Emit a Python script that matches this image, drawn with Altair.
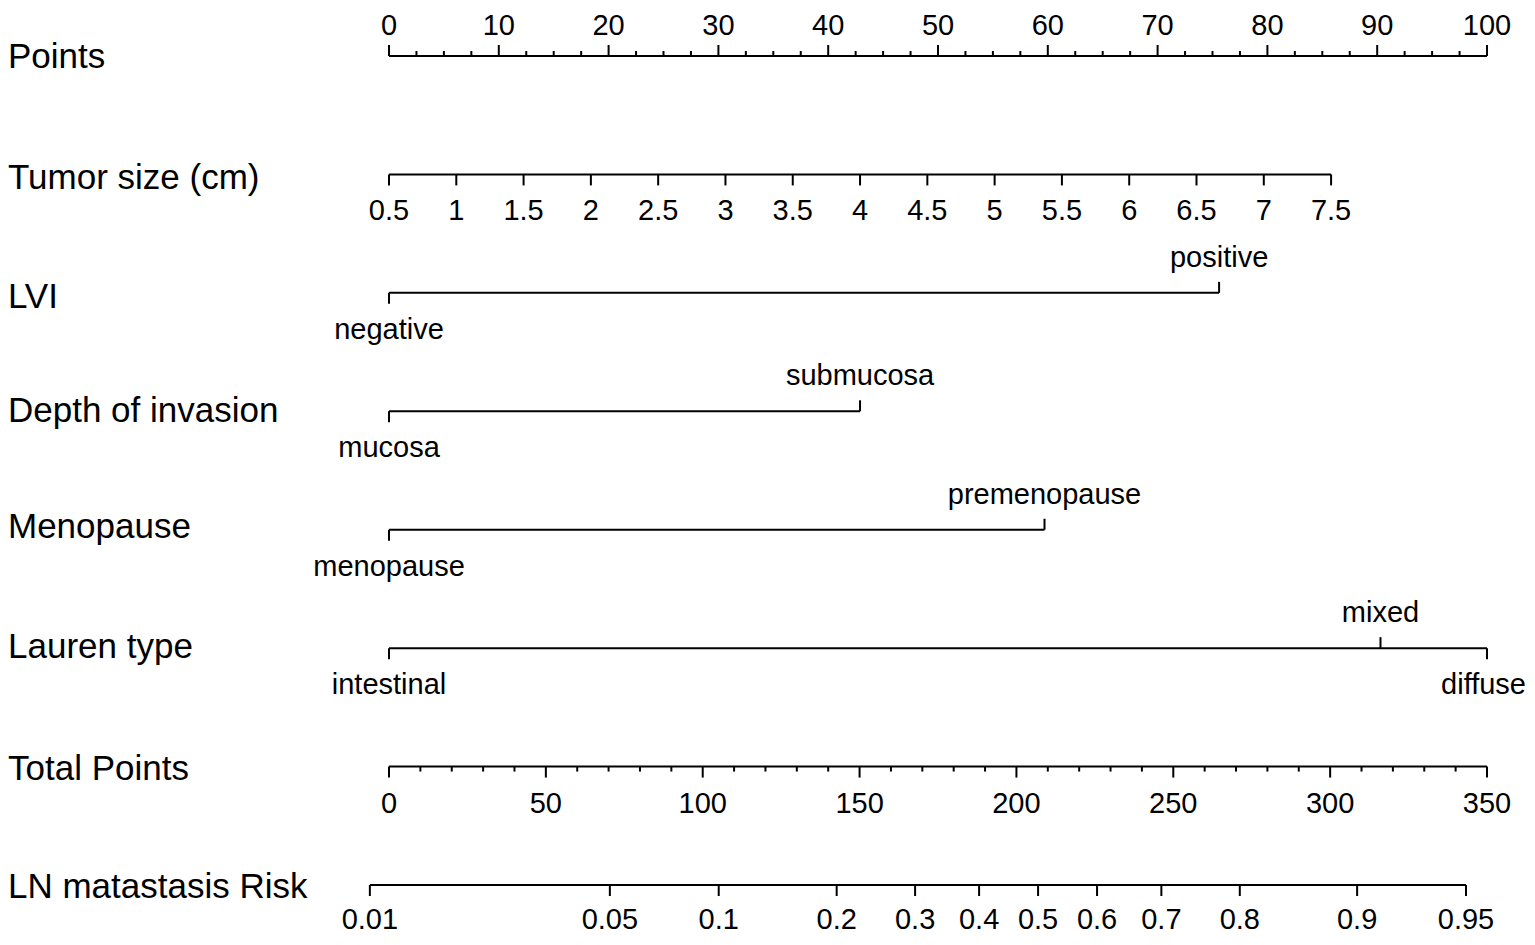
import altair as alt
import pandas as pd

# ---------------- data ----------------
row_names = ["Points", "Tumor size (cm)", "LVI", "Depth of invasion", "Menopause",
             "Lauren type", "Total Points", "LN matastasis Risk"]

points_major = [0, 10, 20, 30, 40, 50, 60, 70, 80, 90, 100]
points_minor = [m + d for m in range(0, 100, 10) for d in (2.5, 5, 7.5)]

tumor_vals = [0.5, 1, 1.5, 2, 2.5, 3, 3.5, 4, 4.5, 5, 5.5, 6, 6.5, 7, 7.5]
tumor_labels = ["0.5", "1", "1.5", "2", "2.5", "3", "3.5", "4", "4.5", "5", "5.5",
                "6", "6.5", "7", "7.5"]
tumor_points_max = 85.8  # points given to 7.5 cm

lvi_levels = ["negative", "positive"]
lvi_points = [0, 75.6]
depth_levels = ["mucosa", "submucosa"]
depth_points = [0, 42.9]
meno_levels = ["menopause", "premenopause"]
meno_points = [0, 59.7]
lauren_levels = ["intestinal", "mixed", "diffuse"]
lauren_points = [0, 90.3, 100]

total_major = [0, 50, 100, 150, 200, 250, 300, 350]
total_minor = [v for v in range(10, 350, 10) if v % 50 != 0]

risk_labels = ["0.01", "0.05", "0.1", "0.2", "0.3", "0.4", "0.5", "0.6", "0.7",
               "0.8", "0.9", "0.95"]
risk_total_points = [-6.1, 70.4, 105.1, 142.7, 167.7, 188.1, 206.9, 225.7, 246.2,
                     271.2, 308.6, 343.3]

# ---------------- layout (pixel positions, styles) ----------------
FONT = "Liberation Sans"
TOP_LINE, BOTTOM_LINE = 56, 885
STEP = (BOTTOM_LINE - TOP_LINE) / (len(row_names) - 1)
LINE_Y = {r: TOP_LINE + i * STEP for i, r in enumerate(row_names)}
NAME_OFF = {"Points": 12, "Tumor size (cm)": 15, "LVI": 15, "Depth of invasion": 11,
            "Menopause": 8, "Lauren type": 10, "Total Points": 13,
            "LN matastasis Risk": 13}
MAJ, MIN = 11, 5
ABOVE, BELOW = -26, 46
PLOT_W = 1098
LEFT = 381
RIGHT = 40
H = 928

YS = alt.Scale(domain=[8, 8 + H], range=[0, H], nice=False, zero=False)
S_PTS = alt.Scale(domain=[0, 100], range=[0, PLOT_W], nice=False, zero=False)
S_TUM = alt.Scale(domain=[0.5, 7.5], range=[0, PLOT_W * tumor_points_max / 100],
                  nice=False, zero=False)
S_TOT = alt.Scale(domain=[0, 350], range=[0, PLOT_W], nice=False, zero=False)

lines, ticks, texts = [], [], []

def add_line(key, row, a, b):
    lines.append(dict(k=key, x=a, x2=b, y=LINE_Y[row]))

def add_tick(key, row, v, length):
    ticks.append(dict(k=key, x=v, y=LINE_Y[row], y2=LINE_Y[row] + length))

def add_text(key, row, v, s, off, edge=False):
    texts.append(dict(k=key, x=v, y=LINE_Y[row] + off, t=s, edge=edge))

# Points
add_line("pts", "Points", 0, 100)
for v in points_major:
    add_tick("pts", "Points", v, -MAJ)
    add_text("pts", "Points", v, str(v), -21)
for v in points_minor:
    add_tick("pts", "Points", v, -MIN)

# Tumor size
add_line("tum", "Tumor size (cm)", tumor_vals[0], tumor_vals[-1])
for v, s in zip(tumor_vals, tumor_labels):
    add_tick("tum", "Tumor size (cm)", v, MAJ)
    add_text("tum", "Tumor size (cm)", v, s, BELOW)

# categorical rows
cats = [("LVI", lvi_levels, lvi_points, ["below", "above"]),
        ("Depth of invasion", depth_levels, depth_points, ["below", "above"]),
        ("Menopause", meno_levels, meno_points, ["below", "above"]),
        ("Lauren type", lauren_levels, lauren_points, ["below", "above", "below"])]
for row, levels, pts, sides in cats:
    add_line("pts", row, min(pts), max(pts))
    for lev, p, side in zip(levels, pts, sides):
        if side == "above":
            add_tick("pts", row, p, -MAJ)
            add_text("pts", row, p, lev, ABOVE)
        else:
            add_tick("pts", row, p, MAJ)
            add_text("pts", row, p, lev, BELOW, edge=(p == 100))

# Total points
add_line("tot", "Total Points", 0, 350)
for v in total_major:
    add_tick("tot", "Total Points", v, MAJ)
    add_text("tot", "Total Points", v, str(v), BELOW)
for v in total_minor:
    add_tick("tot", "Total Points", v, MIN)

# Risk
add_line("tot", "LN matastasis Risk", risk_total_points[0], risk_total_points[-1])
for v, s in zip(risk_total_points, risk_labels):
    add_tick("tot", "LN matastasis Risk", v, MAJ)
    add_text("tot", "LN matastasis Risk", v, s, 44)

LD, TD, XD = pd.DataFrame(lines), pd.DataFrame(ticks), pd.DataFrame(texts)
SCALES = {"pts": S_PTS, "tum": S_TUM, "tot": S_TOT}

def text_layer(df, sc, align="center", dx=0):
    return alt.Chart(df).mark_text(font=FONT, fontSize=29, color="black", align=align,
                                   dx=dx, baseline="alphabetic").encode(
        x=alt.X("x:Q", scale=sc, axis=None),
        y=alt.Y("y:Q", scale=YS, axis=None), text="t:N")

layers = []
for k, sc in SCALES.items():
    layers.append(
        alt.Chart(LD[LD.k == k]).mark_rule(color="black", strokeWidth=2).encode(
            x=alt.X("x:Q", scale=sc, axis=None), x2="x2:Q",
            y=alt.Y("y:Q", scale=YS, axis=None)))
    layers.append(
        alt.Chart(TD[TD.k == k]).mark_rule(color="black", strokeWidth=2).encode(
            x=alt.X("x:Q", scale=sc, axis=None),
            y=alt.Y("y:Q", scale=YS, axis=None), y2="y2:Q"))
    sub = XD[XD.k == k]
    layers.append(text_layer(sub[~sub.edge], sc))
    if sub.edge.any():
        layers.append(text_layer(sub[sub.edge], sc, align="right", dx=RIGHT - 1))

names = pd.DataFrame({"name": row_names,
                      "y": [LINE_Y[r] + NAME_OFF[r] for r in row_names]})
layers.append(
    alt.Chart(names).mark_text(font=FONT, fontSize=35, color="black", align="left",
                               baseline="alphabetic").encode(
        x=alt.value(-LEFT), y=alt.Y("y:Q", scale=YS, axis=None), text="name:N"))

chart = alt.layer(*layers).resolve_scale(x="independent").properties(
    width=PLOT_W, height=H,
    autosize=alt.AutoSizeParams(type="none"),
    padding={"left": LEFT, "top": 0, "right": RIGHT, "bottom": 0},
    background="white",
).configure_view(stroke=None)

chart.save("out.html", embed_options={"renderer": "svg", "actions": False})
